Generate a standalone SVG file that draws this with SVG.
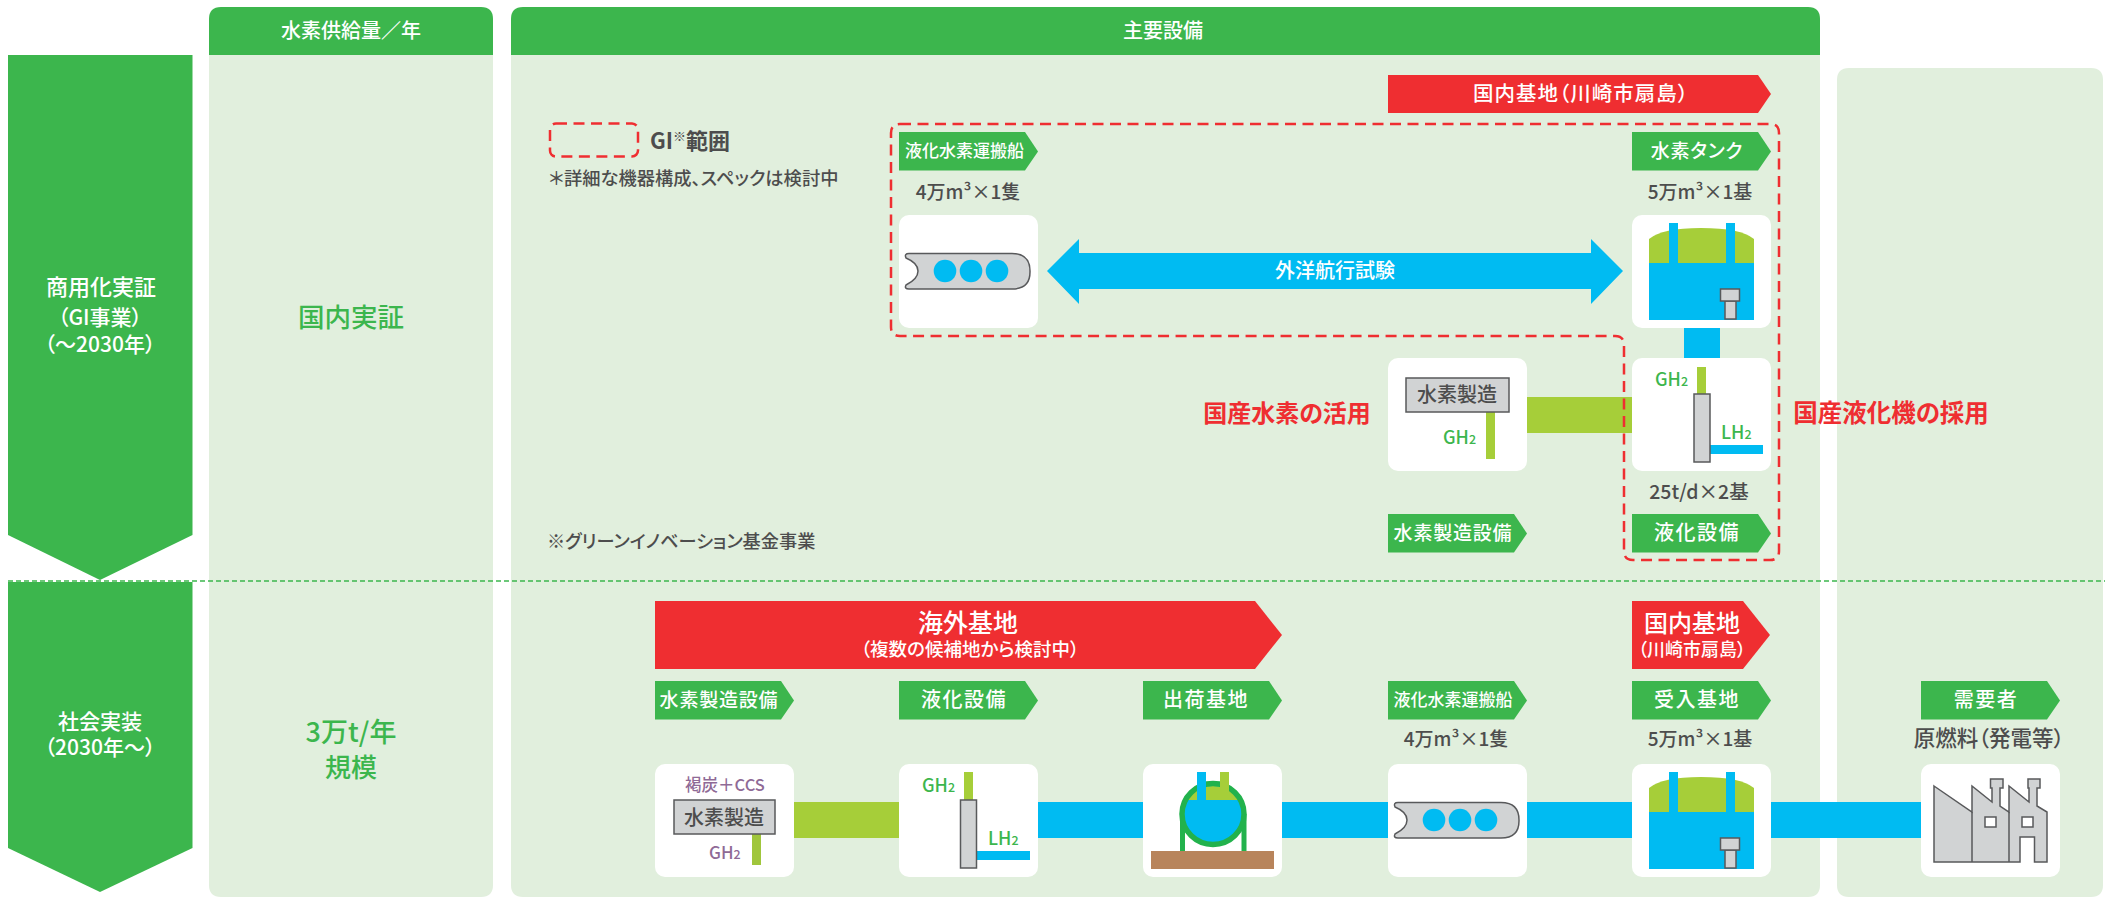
<svg xmlns="http://www.w3.org/2000/svg" xmlns:xlink="http://www.w3.org/1999/xlink" width="2111" height="897" viewBox="0 0 2111 897">
<style>
text{font-family:"Noto Sans CJK JP","Noto Sans",sans-serif;font-weight:500;font-feature-settings:"palt"}
.b{font-weight:700}
.c{text-anchor:middle}
.w{fill:#fff}
.d{fill:#4d4d4d}
.g{fill:#3cb64d}
.p{fill:#8f6a96}
.r{fill:#ef2e31}
.tag{fill:#3cb64d}
.red{fill:#ef2e31}
.pale{fill:#e1efdd}
.card{fill:#fff}
.blue{fill:#00bbf2}
.lime{fill:#a6ce39}
.eq{fill:#d1d3d4;stroke:#58595b;stroke-width:1.5}
.t{font-size:19px;letter-spacing:.8px}
.t4{font-size:20px;letter-spacing:1.5px}
.m{font-size:19px}
.dash{fill:none;stroke:#ef2e31;stroke-width:2.5;stroke-dasharray:11 6.5}
.h2{font-size:18px}
</style>
<defs>
<path id="tagshape" d="M0 0H126L139 19.5L126 38.5H0Z" class="tag"/>
<g id="ship">
<path d="M909 253.500H1012Q1030 253.500 1030 271V272Q1030 289 1012 289H909Q904 289 906 285Q918 279 918 271Q918 263 906 258Q904 253.500 909 253.500Z" class="eq"/>
<circle cx="945" cy="271" r="11.3" class="blue"/><circle cx="971" cy="271" r="11.3" class="blue"/><circle cx="997" cy="271" r="11.3" class="blue"/>
</g>
<g id="tank">
<path d="M1649 263V239Q1662 228 1701 228Q1741 228 1754 239V263Z" class="lime"/>
<rect x="1649" y="263" width="105" height="57" class="blue"/>
<rect x="1669" y="223" width="9" height="40" class="blue"/>
<rect x="1726" y="223" width="9" height="40" class="blue"/>
<rect x="1725" y="301" width="11" height="18" class="eq"/>
<rect x="1720.500" y="289" width="19" height="12" class="eq"/>
</g>
</defs>
<g id="left-arrows">
<g id="phase-gi"><path d="M8 55H192.500V535L100 580L8 535Z" class="tag"/>
<text x="101" y="295" class="c w" font-size="22">商用化実証</text><text x="100" y="325" class="c w" font-size="21">（GI事業）</text><text x="100" y="352" class="c w" font-size="21">（～2030年）</text></g>
<g id="phase-social"><path d="M8 582H192.500V848L100 892L8 848Z" class="tag"/>
<text x="100" y="729" class="c w" font-size="21">社会実装</text><text x="100" y="755" class="c w" font-size="21">（2030年～）</text></g>
</g>
<g id="panels">
<g id="col-supply"><path d="M209 55H493V885Q493 897 481 897H221Q209 897 209 885Z" class="pale"/>
<path d="M209 55V19Q209 7 221 7H481Q493 7 493 19V55Z" class="tag"/>
<text x="351" y="38" class="c w" font-size="20">水素供給量／年</text>
<text x="351" y="327" class="c g" font-size="26.500">国内実証</text>
<text x="351" y="742" class="c g" font-size="27">3万t/年</text><text x="351" y="777" class="c g" font-size="26">規模</text></g>
<g id="col-equipment"><path d="M511 55H1820V885Q1820 897 1808 897H523Q511 897 511 885Z" class="pale"/>
<path d="M511 55V19Q511 7 523 7H1808Q1820 7 1820 19V55Z" class="tag"/>
<text x="1163" y="38" class="c w" font-size="20">主要設備</text></g>
<g id="col-demand"><path d="M1849 68H2091Q2103 68 2103 80V885Q2103 897 2091 897H1849Q1837 897 1837 885V80Q1837 68 1849 68Z" class="pale"/></g>
</g>
<g id="connectors">
<rect x="1684" y="328" width="36" height="30" class="blue"/>
<rect x="1527" y="397" width="105" height="36" class="lime"/>
<rect x="794" y="802" width="105" height="36" class="lime"/>
<rect x="1038" y="802" width="105" height="36" class="blue"/>
<rect x="1282" y="802" width="106" height="36" class="blue"/>
<rect x="1527" y="802" width="105" height="36" class="blue"/>
<rect x="1771" y="802" width="150" height="36" class="blue"/>
<path id="voyage" d="M1047 271L1079 239V253H1591V239L1623 271L1591 304V289H1079V304Z" class="blue"/>
<text x="1335" y="278" class="c w" font-size="20">外洋航行試験</text>
</g>
<g id="legend">
<rect x="550" y="123.500" width="88" height="33" rx="6" class="dash" stroke-dasharray="8 5"/>
<text x="650" y="149" class="d b" font-size="22">GI<tspan font-size="13" dy="-8">※</tspan><tspan dy="8">範囲</tspan></text>
<text x="549" y="185" class="d" font-size="18.300">＊詳細な機器構成、スペックは検討中</text>
<text x="547" y="548" class="d" font-size="18.200">※グリーンイノベーション基金事業</text>
</g>
<g id="base-top"><path d="M1388 75H1758L1771 94L1758 113H1388Z" class="red"/><text x="1581" y="101" class="c w" font-size="20.500" letter-spacing="1">国内基地（川崎市扇島）</text></g>
<g id="gi-ship">
<use xlink:href="#tagshape" href="#tagshape" x="899" y="132"/><text x="964.500" y="157" class="c w" font-size="17">液化水素運搬船</text>
<text x="968" y="199" class="c d m">4万m³×1隻</text>
<rect x="899" y="215" width="139" height="113" rx="10" class="card"/>
<use xlink:href="#ship" href="#ship"/>
</g>
<g id="gi-tank">
<use xlink:href="#tagshape" href="#tagshape" x="1632" y="132"/><text x="1697" y="158" class="c w t">水素タンク</text>
<text x="1700" y="199" class="c d m">5万m³×1基</text>
<rect x="1632" y="215" width="139" height="113" rx="10" class="card"/>
<use xlink:href="#tank" href="#tank"/>
</g>
<g id="gi-liquefier">
<rect x="1632" y="358" width="139" height="113" rx="10" class="card"/>
<rect x="1697" y="367" width="9" height="27" class="lime"/>
<rect x="1710" y="445" width="53" height="9" class="blue"/>
<rect x="1694" y="394" width="16" height="68" class="eq"/>
<text x="1655" y="386" class="g h2">GH<tspan font-size="12.500">2</tspan></text>
<text x="1721" y="439" class="g h2">LH<tspan font-size="12.500">2</tspan></text>
<text x="1699" y="499" class="c d" font-size="19.500">25t/d×2基</text>
<use xlink:href="#tagshape" href="#tagshape" x="1632" y="514"/><text x="1697" y="540" class="c w t4">液化設備</text>
</g>
<g id="gi-production">
<rect x="1388" y="358" width="139" height="113" rx="10" class="card"/>
<rect x="1486" y="412" width="9" height="47" class="lime"/>
<rect x="1406" y="378" width="103" height="34" class="eq"/>
<text x="1457" y="402" class="c d" font-size="20">水素製造</text>
<text x="1443" y="444" class="g h2">GH<tspan font-size="12.500">2</tspan></text>
<use xlink:href="#tagshape" href="#tagshape" x="1388" y="514"/><text x="1453" y="540" class="c w t">水素製造設備</text>
</g>
<path id="gi-range" d="M900 124H1770Q1779 124 1779 133V551Q1779 560 1770 560H1633Q1624 560 1624 551V345Q1624 336 1615 336H900Q891 336 891 327V133Q891 124 900 124Z" class="dash"/>
<text x="1287" y="422" class="c r b" font-size="24">国産水素の活用</text>
<text x="1891" y="422" class="c r b" font-size="24.500">国産液化機の採用</text>
<g id="base-overseas"><path d="M655 601H1255L1282 635L1255 669H655Z" class="red"/>
<text x="968" y="632" class="c w" font-size="25">海外基地</text><text x="970" y="656" class="c w" font-size="18.500">（複数の候補地から検討中）</text></g>
<g id="base-domestic"><path d="M1632 601H1743L1770 635L1743 669H1632Z" class="red"/>
<text x="1692" y="632" class="c w" font-size="24">国内基地</text><text x="1692" y="656" class="c w" font-size="18">（川崎市扇島）</text></g>
<g id="s-production">
<use xlink:href="#tagshape" href="#tagshape" x="655" y="681"/><text x="719" y="707" class="c w t">水素製造設備</text>
<rect x="655" y="764" width="139" height="113" rx="10" class="card"/>
<text x="725" y="791" class="c p" font-size="16.500">褐炭＋CCS</text>
<rect x="752" y="834" width="9" height="31" fill="#a0c63c"/>
<rect x="674" y="800" width="101" height="34" class="eq"/>
<text x="724" y="825" class="c d" font-size="20">水素製造</text>
<text x="709" y="859" class="p" font-size="17">GH<tspan font-size="12.500">2</tspan></text>
</g>
<g id="s-liquefier">
<use xlink:href="#tagshape" href="#tagshape" x="899" y="681"/><text x="964" y="707" class="c w t4">液化設備</text>
<rect x="899" y="764" width="139" height="113" rx="10" class="card"/>
<rect x="964" y="772" width="9" height="28" class="lime"/>
<rect x="977" y="851" width="53" height="9" class="blue"/>
<rect x="960.500" y="800" width="16" height="68" class="eq"/>
<text x="922" y="792" class="g h2">GH<tspan font-size="12.500">2</tspan></text>
<text x="988" y="845" class="g h2">LH<tspan font-size="12.500">2</tspan></text>
</g>
<g id="s-shipping">
<use xlink:href="#tagshape" href="#tagshape" x="1143" y="681"/><text x="1206" y="707" class="c w t4">出荷基地</text>
<rect x="1143" y="764" width="139" height="113" rx="10" class="card"/>
<rect x="1151" y="851" width="123" height="18" fill="#b8845b"/>
<path d="M1182.500 851V814M1244 851V814" stroke="#22b24c" stroke-width="5" fill="none"/>
<ellipse cx="1213" cy="814" rx="30.500" ry="30.500" class="blue"/>
<path d="M1188 800Q1196 786 1213 786Q1231 786 1239 800Z" class="lime"/>
<ellipse cx="1213" cy="814" rx="31" ry="30.500" fill="none" stroke="#22b24c" stroke-width="5.500"/>
<rect x="1197" y="772" width="9" height="28" class="blue"/>
<rect x="1220" y="772" width="9" height="28" class="lime"/>
</g>
<g id="s-carrier">
<use xlink:href="#tagshape" href="#tagshape" x="1388" y="681"/><text x="1453" y="706" class="c w" font-size="17">液化水素運搬船</text>
<text x="1456" y="746" class="c d m">4万m³×1隻</text>
<rect x="1388" y="764" width="139" height="113" rx="10" class="card"/>
<use xlink:href="#ship" href="#ship" x="489" y="549"/>
</g>
<g id="s-receiving">
<use xlink:href="#tagshape" href="#tagshape" x="1632" y="681"/><text x="1697" y="707" class="c w t4">受入基地</text>
<text x="1700" y="746" class="c d m">5万m³×1基</text>
<rect x="1632" y="764" width="139" height="113" rx="10" class="card"/>
<use xlink:href="#tank" href="#tank" y="549"/>
</g>
<g id="s-demand">
<use xlink:href="#tagshape" href="#tagshape" x="1921" y="681"/><text x="1986" y="707" class="c w t4">需要者</text>
<text x="1989" y="746" class="c d" font-size="21.500">原燃料（発電等）</text>
<rect x="1921" y="764" width="139" height="113" rx="10" class="card"/>
<path d="M1934 786L1972 812V786L1992 802V788H1990.500V779H2003V788H2000V806L2009 812V786L2029 802V788H2028V779H2040V788H2037V806L2047 812V862H2034.500V837H2020V862H1934Z" class="eq"/>
<path d="M1972 812V862M2009 812V862" fill="none" stroke="#58595b" stroke-width="1.500"/>
<rect x="1985" y="817" width="11" height="10" fill="#fff" stroke="#58595b" stroke-width="1.500"/>
<rect x="2022" y="817" width="11" height="10" fill="#fff" stroke="#58595b" stroke-width="1.500"/>
</g>
<line id="divider" x1="8" y1="581" x2="2105" y2="581" stroke="#3cb64d" stroke-width="1.500" stroke-dasharray="5 3"/>
</svg>
